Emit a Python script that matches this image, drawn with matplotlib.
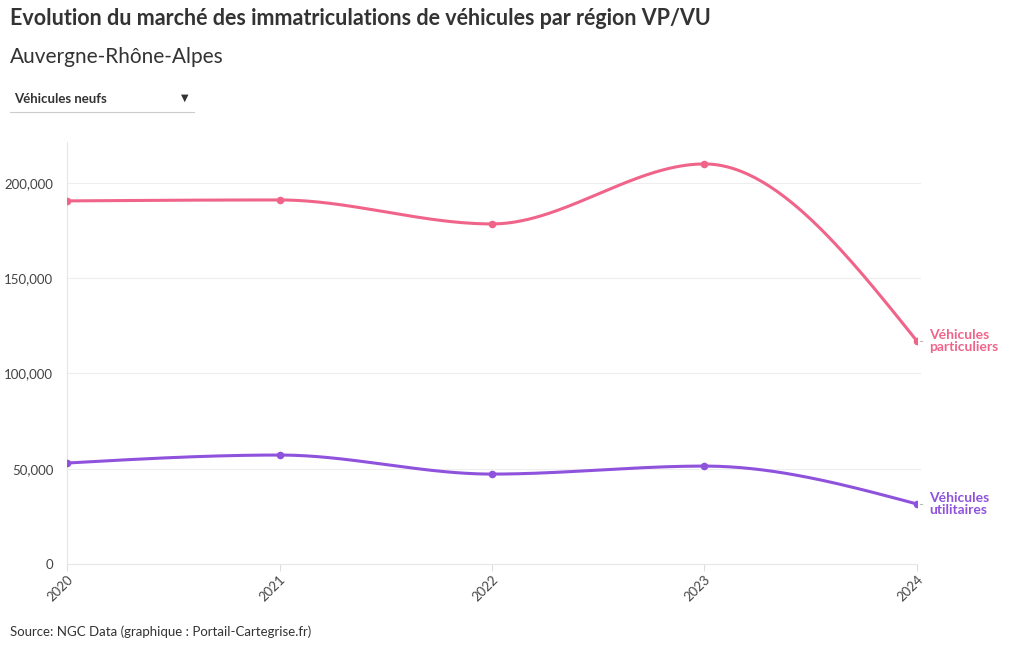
import numpy as np
import matplotlib.pyplot as plt
from matplotlib.ticker import FuncFormatter

# Données
annees = [2020, 2021, 2022, 2023, 2024]
vp = [190600, 191100, 178500, 210000, 117000]   # Véhicules particuliers
vu = [53000, 57200, 47200, 51400, 31500]        # Véhicules utilitaires
series = [
    ("Véhicules\nparticuliers", vp, "#f0648a"),
    ("Véhicules\nutilitaires", vu, "#8f52dc"),
]
y_ticks = [0, 50000, 100000, 150000, 200000]

plt.rcParams['font.family'] = ['Lato', 'DejaVu Sans']


# Interpolation monotone (comme d3.curveMonotoneX) pour tracer des courbes lisses
def monotone_curve(x, y, n=60):
    x = np.asarray(x, float)
    y = np.asarray(y, float)
    h = np.diff(x)
    s = np.diff(y) / h
    m = np.zeros(len(x))
    for i in range(1, len(x) - 1):
        if s[i - 1] * s[i] <= 0:
            m[i] = 0
        else:
            p = (s[i - 1] * h[i] + s[i] * h[i - 1]) / (h[i - 1] + h[i])
            m[i] = (np.sign(s[i - 1]) + np.sign(s[i])) * min(abs(s[i - 1]), abs(s[i]), 0.5 * abs(p))
    m[0] = (3 * s[0] - m[1]) / 2
    m[-1] = (3 * s[-1] - m[-2]) / 2
    xs, ys = [], []
    for i in range(len(x) - 1):
        t = np.linspace(0, 1, n)
        h00 = 2 * t**3 - 3 * t**2 + 1
        h10 = t**3 - 2 * t**2 + t
        h01 = -2 * t**3 + 3 * t**2
        h11 = t**3 - t**2
        xs.append(x[i] + t * h[i])
        ys.append(h00 * y[i] + h10 * h[i] * m[i] + h01 * y[i + 1] + h11 * h[i] * m[i + 1])
    return np.concatenate(xs), np.concatenate(ys)


fig = plt.figure(figsize=(10.2, 6.5), dpi=100)
ax = fig.add_axes([0.0657, 0.1323, 0.899 - 0.0657, 0.7815 - 0.1323])

for label, values, color in series:
    cx, cy = monotone_curve(annees, values)
    ax.plot(cx, cy, color=color, lw=2.2, solid_capstyle='round', zorder=3)
    ax.scatter(annees, values, s=30, color=color, zorder=4, linewidths=0)
    ax.annotate(label, xy=(annees[-1], values[-1]), xytext=(8.5, 0), textcoords='offset points',
                ha='left', va='center', multialignment='left', color=color, fontsize=10,
                fontweight='bold', linespacing=1.0, annotation_clip=False)
    # petit trait entre le point et l'étiquette
    ax.plot([annees[-1] + 0.012, annees[-1] + 0.022], [values[-1], values[-1]],
            color='#bbbbbb', lw=0.8, clip_on=False)

ax.set_xlim(annees[0], annees[-1])
ax.set_ylim(0, 221500)
ax.set_xticks(annees)
ax.set_xticklabels([str(a) for a in annees], rotation=45, ha='right', va='top',
                   rotation_mode='anchor', color='#444444', fontsize=9.5)
ax.set_yticks(y_ticks)
ax.yaxis.set_major_formatter(FuncFormatter(lambda v, p: f"{int(v):,}"))
ax.tick_params(axis='y', length=0, labelsize=9.5, labelcolor='#444444', pad=10)
ax.tick_params(axis='x', length=5, color='#dddddd', pad=2)

for v in y_ticks[1:]:
    ax.plot([annees[0], annees[-1] + 0.015], [v, v], color='#eeeeee', lw=0.8, zorder=1, clip_on=False)
for side in ['top', 'right']:
    ax.spines[side].set_visible(False)
ax.spines['left'].set_color('#e6e6e6')
ax.spines['bottom'].set_color('#e6e6e6')

# Titres et sélecteur
fig.text(0.0098, 0.962, "Evolution du marché des immatriculations de véhicules par région VP/VU",
         fontsize=15.5, fontweight='bold', color='#333333', va='baseline')
fig.text(0.0098, 0.903, "Auvergne-Rhône-Alpes", fontsize=15, color='#333333', va='baseline')
fig.text(0.0137, 0.841, "Véhicules neufs", fontsize=9.5, fontweight='bold', color='#333333', va='baseline')
fig.text(0.181, 0.849, "▼", fontsize=7, color='#333333', va='center', ha='center',
         family='DejaVu Sans')
fig.add_artist(plt.Line2D([0.0098, 0.19], [0.828, 0.828], color='#cccccc', lw=0.8))
fig.text(0.0098, 0.022, "Source: NGC Data (graphique : Portail-Cartegrise.fr)", fontsize=9.5,
         color='#333333', va='baseline')

fig.savefig('out.png', dpi=100)
